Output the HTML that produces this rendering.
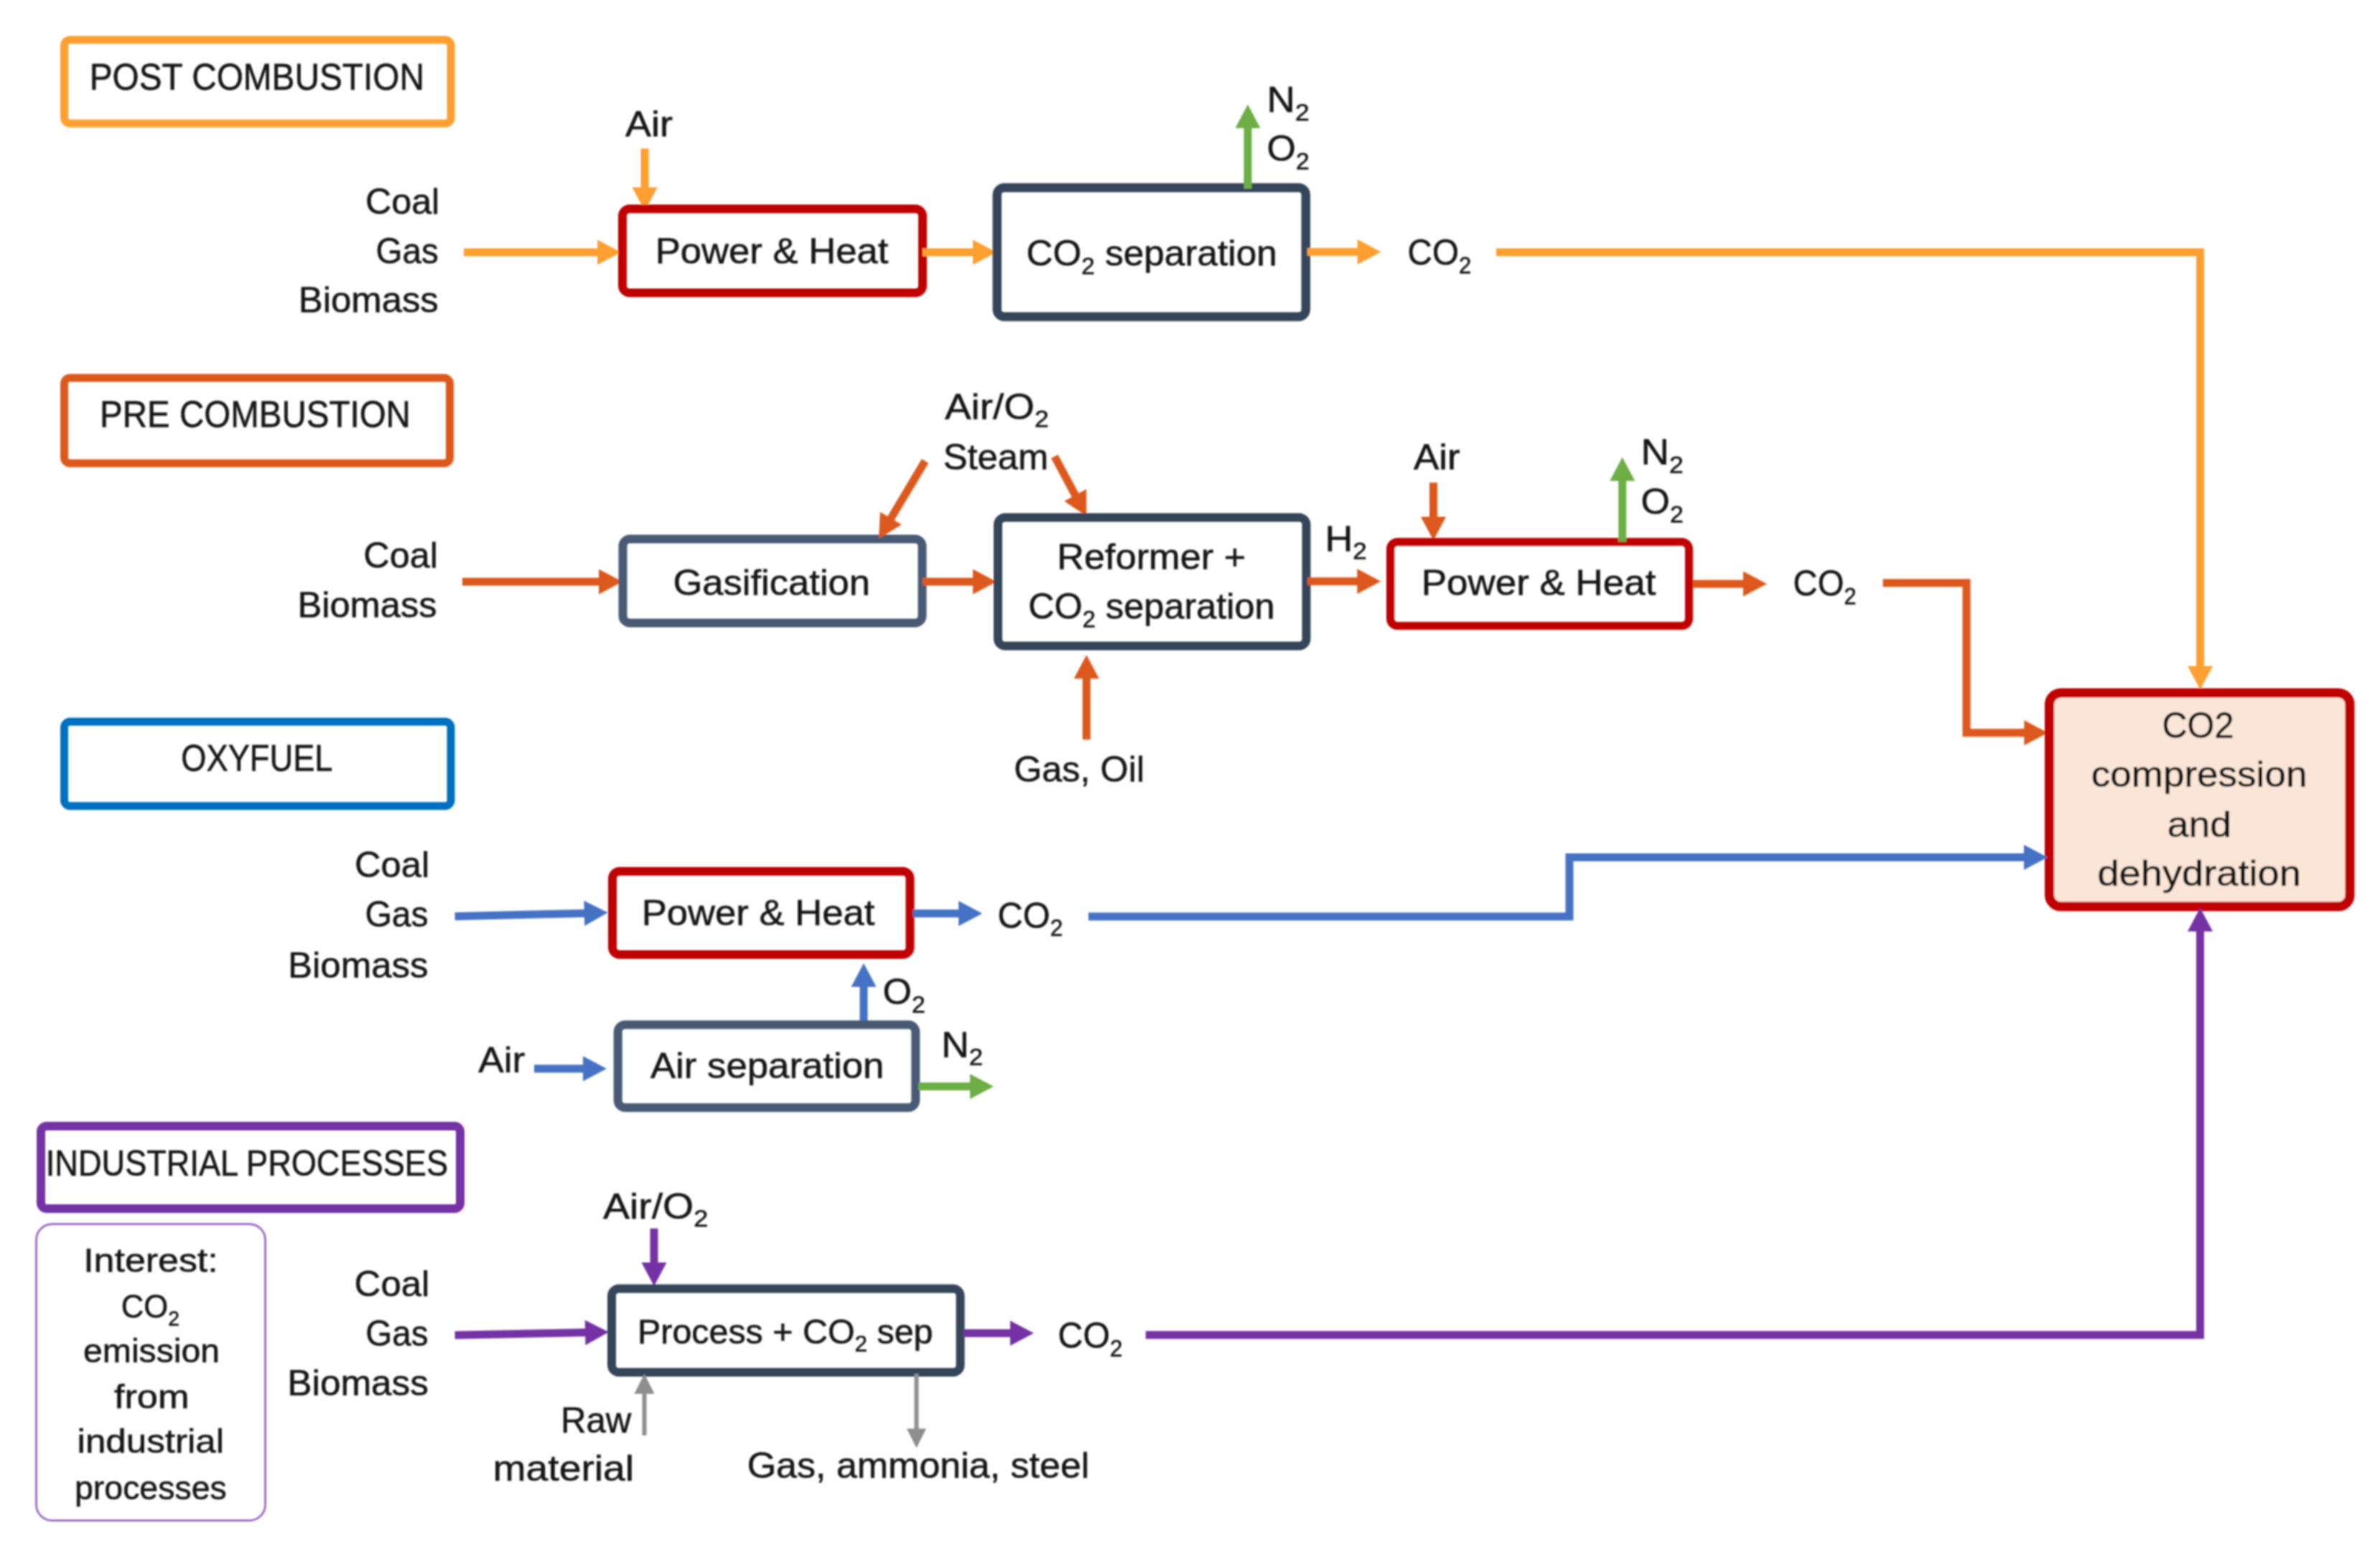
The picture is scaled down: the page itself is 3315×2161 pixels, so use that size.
<!DOCTYPE html>
<html><head><meta charset="utf-8"><style>
html,body{margin:0;padding:0;background:#fff;}
svg{display:block;}
text{font-family:"Liberation Sans",sans-serif;}
</style></head><body>
<svg width="3315" height="2161" viewBox="0 0 3315 2161">
<defs><filter id="bl" x="0" y="0" width="3315" height="2161" filterUnits="userSpaceOnUse"><feGaussianBlur stdDeviation="1"/></filter></defs>
<rect width="3315" height="2161" fill="#fff"/>
<g filter="url(#bl)">
<rect x="89.5" y="55.5" width="538.5" height="116.5" rx="8" fill="none" stroke="#FE9F33" stroke-width="11"/>
<text x="124.7" y="125.0" font-size="52.2" textLength="466.2" lengthAdjust="spacingAndGlyphs" fill="#181818" stroke="#181818" stroke-width="0.6" xml:space="preserve">POST COMBUSTION</text>
<rect x="89.5" y="526.5" width="537.0" height="119.0" rx="8" fill="none" stroke="#DD581E" stroke-width="11"/>
<text x="139.1" y="595.3" font-size="52.2" textLength="432.8" lengthAdjust="spacingAndGlyphs" fill="#181818" stroke="#181818" stroke-width="0.6" xml:space="preserve">PRE COMBUSTION</text>
<rect x="89.5" y="1005.5" width="538.5" height="117.5" rx="8" fill="none" stroke="#0070C0" stroke-width="11"/>
<text x="252.3" y="1074.2" font-size="52.2" textLength="211.2" lengthAdjust="spacingAndGlyphs" fill="#181818" stroke="#181818" stroke-width="0.6" xml:space="preserve">OXYFUEL</text>
<rect x="57.0" y="1569.0" width="584.0" height="115.0" rx="8" fill="none" stroke="#7432A4" stroke-width="12"/>
<text x="63.8" y="1637.5" font-size="50.0" textLength="560.2" lengthAdjust="spacingAndGlyphs" fill="#181818" stroke="#181818" stroke-width="0.6" xml:space="preserve">INDUSTRIAL PROCESSES</text>
<rect x="50.5" y="1705.5" width="319.0" height="413.0" rx="22" fill="none" stroke="#9B6FC8" stroke-width="3"/>
<text x="508.9" y="298.0" font-size="50.0" textLength="103.4" lengthAdjust="spacingAndGlyphs" fill="#181818" stroke="#181818" stroke-width="0.6" xml:space="preserve">Coal</text>
<text x="523.5" y="367.0" font-size="50.0" textLength="87.2" lengthAdjust="spacingAndGlyphs" fill="#181818" stroke="#181818" stroke-width="0.6" xml:space="preserve">Gas</text>
<text x="415.8" y="434.7" font-size="50.0" textLength="195.0" lengthAdjust="spacingAndGlyphs" fill="#181818" stroke="#181818" stroke-width="0.6" xml:space="preserve">Biomass</text>
<text x="870.9" y="189.9" font-size="50.0" textLength="66.0" lengthAdjust="spacingAndGlyphs" fill="#181818" stroke="#181818" stroke-width="0.6" xml:space="preserve">Air</text>
<line x1="898.0" y1="207.0" x2="898.0" y2="262.0" stroke="#FE9F33" stroke-width="11"/>
<polygon points="898.0,294.0 880.5,261.0 915.5,261.0" fill="#FE9F33"/>
<line x1="646.0" y1="351.5" x2="833.0" y2="351.5" stroke="#FE9F33" stroke-width="11"/>
<polygon points="865.0,351.5 832.0,369.0 832.0,334.0" fill="#FE9F33"/>
<rect x="867.0" y="291.0" width="418.0" height="117.0" rx="10" fill="none" stroke="#C00000" stroke-width="12"/>
<text x="912.7" y="367.0" font-size="50.0" textLength="324.7" lengthAdjust="spacingAndGlyphs" fill="#181818" stroke="#181818" stroke-width="0.6" xml:space="preserve">Power &amp; Heat</text>
<line x1="1285.0" y1="351.5" x2="1356.0" y2="351.5" stroke="#FE9F33" stroke-width="11"/>
<polygon points="1388.0,351.5 1355.0,369.0 1355.0,334.0" fill="#FE9F33"/>
<rect x="1388.8" y="261.4" width="430.0" height="179.8" rx="10" fill="none" stroke="#36445A" stroke-width="12.5"/>
<text x="1429.4" y="370.0" font-size="50.0" textLength="349.3" lengthAdjust="spacingAndGlyphs" fill="#181818" stroke="#181818" stroke-width="0.6" xml:space="preserve">CO<tspan font-size="32.5" dy="11.5">2</tspan><tspan dy="-11.5"> separation</tspan></text>
<line x1="1738.0" y1="263.0" x2="1738.0" y2="177.4" stroke="#6DAE45" stroke-width="11"/>
<polygon points="1738.0,145.4 1755.5,178.4 1720.5,178.4" fill="#6DAE45"/>
<text x="1764.5" y="156.0" font-size="50.0" textLength="59.3" lengthAdjust="spacingAndGlyphs" fill="#181818" stroke="#181818" stroke-width="0.6" xml:space="preserve">N<tspan font-size="32.5" dy="11.5">2</tspan></text>
<text x="1764.5" y="224.0" font-size="50.0" textLength="59.2" lengthAdjust="spacingAndGlyphs" fill="#181818" stroke="#181818" stroke-width="0.6" xml:space="preserve">O<tspan font-size="32.5" dy="11.5">2</tspan></text>
<line x1="1820.7" y1="351.0" x2="1891.6" y2="351.0" stroke="#FE9F33" stroke-width="11"/>
<polygon points="1923.6,351.0 1890.6,368.5 1890.6,333.5" fill="#FE9F33"/>
<text x="1960.6" y="369.0" font-size="50.0" textLength="88.6" lengthAdjust="spacingAndGlyphs" fill="#181818" stroke="#181818" stroke-width="0.6" xml:space="preserve">CO<tspan font-size="32.5" dy="11.5">2</tspan></text>
<polyline points="2084.0,351.6 3064.5,351.6 3064.5,929.0" fill="none" stroke="#FE9F33" stroke-width="11" stroke-linejoin="miter"/>
<line x1="3064.5" y1="925.0" x2="3064.5" y2="929.0" stroke="#FE9F33" stroke-width="11"/>
<polygon points="3064.5,961.0 3047.0,928.0 3082.0,928.0" fill="#FE9F33"/>
<text x="506.3" y="791.0" font-size="50.0" textLength="103.6" lengthAdjust="spacingAndGlyphs" fill="#181818" stroke="#181818" stroke-width="0.6" xml:space="preserve">Coal</text>
<text x="414.5" y="860.0" font-size="50.0" textLength="194.0" lengthAdjust="spacingAndGlyphs" fill="#181818" stroke="#181818" stroke-width="0.6" xml:space="preserve">Biomass</text>
<line x1="644.0" y1="810.4" x2="835.0" y2="810.4" stroke="#DD581E" stroke-width="11"/>
<polygon points="867.0,810.4 834.0,827.9 834.0,792.9" fill="#DD581E"/>
<rect x="867.5" y="751.0" width="417.0" height="117.0" rx="10" fill="none" stroke="#485A74" stroke-width="12"/>
<text x="937.4" y="828.7" font-size="50.0" textLength="274.7" lengthAdjust="spacingAndGlyphs" fill="#181818" stroke="#181818" stroke-width="0.6" xml:space="preserve">Gasification</text>
<line x1="1285.0" y1="810.4" x2="1356.0" y2="810.4" stroke="#DD581E" stroke-width="11"/>
<polygon points="1388.0,810.4 1355.0,827.9 1355.0,792.9" fill="#DD581E"/>
<line x1="1288.5" y1="642.4" x2="1240.4" y2="723.0" stroke="#DD581E" stroke-width="11"/>
<polygon points="1224.0,750.5 1225.9,713.2 1255.9,731.1" fill="#DD581E"/>
<text x="1315.9" y="583.8" font-size="50.0" textLength="144.9" lengthAdjust="spacingAndGlyphs" fill="#181818" stroke="#181818" stroke-width="0.6" xml:space="preserve">Air/O<tspan font-size="32.5" dy="11.5">2</tspan></text>
<text x="1313.7" y="654.0" font-size="50.0" textLength="146.6" lengthAdjust="spacingAndGlyphs" fill="#181818" stroke="#181818" stroke-width="0.6" xml:space="preserve">Steam</text>
<line x1="1468.8" y1="636.0" x2="1498.2" y2="690.8" stroke="#DD581E" stroke-width="11"/>
<polygon points="1513.3,719.0 1482.3,698.2 1513.1,681.6" fill="#DD581E"/>
<rect x="1390.0" y="721.0" width="429.5" height="179.0" rx="10" fill="none" stroke="#36445A" stroke-width="12"/>
<text x="1472.3" y="792.7" font-size="50.0" textLength="262.9" lengthAdjust="spacingAndGlyphs" fill="#181818" stroke="#181818" stroke-width="0.6" xml:space="preserve">Reformer +</text>
<text x="1432.2" y="862.3" font-size="50.0" textLength="343.4" lengthAdjust="spacingAndGlyphs" fill="#181818" stroke="#181818" stroke-width="0.6" xml:space="preserve">CO<tspan font-size="32.5" dy="11.5">2</tspan><tspan dy="-11.5"> separation</tspan></text>
<line x1="1513.3" y1="1030.5" x2="1513.3" y2="944.5" stroke="#DD581E" stroke-width="11"/>
<polygon points="1513.3,912.5 1530.8,945.5 1495.8,945.5" fill="#DD581E"/>
<text x="1412.2" y="1088.5" font-size="50.0" textLength="181.9" lengthAdjust="spacingAndGlyphs" fill="#181818" stroke="#181818" stroke-width="0.6" xml:space="preserve">Gas, Oil</text>
<text x="1845.4" y="767.5" font-size="50.0" textLength="58.4" lengthAdjust="spacingAndGlyphs" fill="#181818" stroke="#181818" stroke-width="0.6" xml:space="preserve">H<tspan font-size="32.5" dy="11.5">2</tspan></text>
<line x1="1820.8" y1="810.0" x2="1891.3" y2="810.0" stroke="#DD581E" stroke-width="11"/>
<polygon points="1923.3,810.0 1890.3,827.5 1890.3,792.5" fill="#DD581E"/>
<text x="1968.9" y="654.0" font-size="50.0" textLength="64.8" lengthAdjust="spacingAndGlyphs" fill="#181818" stroke="#181818" stroke-width="0.6" xml:space="preserve">Air</text>
<line x1="1996.5" y1="672.4" x2="1996.5" y2="721.0" stroke="#DD581E" stroke-width="11"/>
<polygon points="1996.5,753.0 1979.0,720.0 2014.0,720.0" fill="#DD581E"/>
<rect x="1936.5" y="755.0" width="416.0" height="117.0" rx="10" fill="none" stroke="#C00000" stroke-width="11"/>
<text x="1979.7" y="829.4" font-size="50.0" textLength="326.7" lengthAdjust="spacingAndGlyphs" fill="#181818" stroke="#181818" stroke-width="0.6" xml:space="preserve">Power &amp; Heat</text>
<line x1="2259.7" y1="754.8" x2="2259.7" y2="669.0" stroke="#6DAE45" stroke-width="11"/>
<polygon points="2259.7,637.0 2277.2,670.0 2242.2,670.0" fill="#6DAE45"/>
<text x="2285.5" y="647.2" font-size="50.0" textLength="59.3" lengthAdjust="spacingAndGlyphs" fill="#181818" stroke="#181818" stroke-width="0.6" xml:space="preserve">N<tspan font-size="32.5" dy="11.5">2</tspan></text>
<text x="2285.5" y="716.0" font-size="50.0" textLength="59.2" lengthAdjust="spacingAndGlyphs" fill="#181818" stroke="#181818" stroke-width="0.6" xml:space="preserve">O<tspan font-size="32.5" dy="11.5">2</tspan></text>
<line x1="2357.8" y1="813.6" x2="2429.0" y2="813.6" stroke="#DD581E" stroke-width="11"/>
<polygon points="2461.0,813.6 2428.0,831.1 2428.0,796.1" fill="#DD581E"/>
<text x="2497.6" y="830.4" font-size="50.0" textLength="87.9" lengthAdjust="spacingAndGlyphs" fill="#181818" stroke="#181818" stroke-width="0.6" xml:space="preserve">CO<tspan font-size="32.5" dy="11.5">2</tspan></text>
<polyline points="2622.6,812.2 2739.0,812.2 2739.0,1021.0 2825.0,1021.0" fill="none" stroke="#DD581E" stroke-width="11" stroke-linejoin="miter"/>
<line x1="2815.0" y1="1021.0" x2="2820.4" y2="1021.0" stroke="#DD581E" stroke-width="11"/>
<polygon points="2852.4,1021.0 2819.4,1038.5 2819.4,1003.5" fill="#DD581E"/>
<rect x="2854.5" y="965.5" width="418.5" height="297.5" rx="16" fill="#FBE5D6" stroke="#C00000" stroke-width="13"/>
<text x="3011.5" y="1028.0" font-size="50.0" textLength="99.9" lengthAdjust="spacingAndGlyphs" fill="#181818" stroke="#181818" stroke-width="0.6" xml:space="preserve">CO2</text>
<text x="2912.7" y="1096.0" font-size="50.0" textLength="300.7" lengthAdjust="spacingAndGlyphs" fill="#181818" stroke="#181818" stroke-width="0.6" xml:space="preserve">compression</text>
<text x="3018.7" y="1165.5" font-size="50.0" textLength="89.4" lengthAdjust="spacingAndGlyphs" fill="#181818" stroke="#181818" stroke-width="0.6" xml:space="preserve">and</text>
<text x="2921.4" y="1234.0" font-size="50.0" textLength="283.6" lengthAdjust="spacingAndGlyphs" fill="#181818" stroke="#181818" stroke-width="0.6" xml:space="preserve">dehydration</text>
<text x="493.9" y="1222.3" font-size="50.0" textLength="104.3" lengthAdjust="spacingAndGlyphs" fill="#181818" stroke="#181818" stroke-width="0.6" xml:space="preserve">Coal</text>
<text x="508.4" y="1291.4" font-size="50.0" textLength="88.2" lengthAdjust="spacingAndGlyphs" fill="#181818" stroke="#181818" stroke-width="0.6" xml:space="preserve">Gas</text>
<text x="401.0" y="1361.8" font-size="50.0" textLength="195.6" lengthAdjust="spacingAndGlyphs" fill="#181818" stroke="#181818" stroke-width="0.6" xml:space="preserve">Biomass</text>
<line x1="633.6" y1="1276.8" x2="814.8" y2="1272.4" stroke="#4472C4" stroke-width="11"/>
<polygon points="846.8,1271.6 814.2,1289.9 813.4,1254.9" fill="#4472C4"/>
<rect x="853.0" y="1214.0" width="414.5" height="116.0" rx="10" fill="none" stroke="#C00000" stroke-width="12"/>
<text x="893.7" y="1288.6" font-size="50.0" textLength="324.7" lengthAdjust="spacingAndGlyphs" fill="#181818" stroke="#181818" stroke-width="0.6" xml:space="preserve">Power &amp; Heat</text>
<line x1="1271.4" y1="1272.8" x2="1336.2" y2="1272.8" stroke="#4472C4" stroke-width="11"/>
<polygon points="1368.2,1272.8 1335.2,1290.3 1335.2,1255.3" fill="#4472C4"/>
<text x="1389.5" y="1292.6" font-size="50.0" textLength="90.9" lengthAdjust="spacingAndGlyphs" fill="#181818" stroke="#181818" stroke-width="0.6" xml:space="preserve">CO<tspan font-size="32.5" dy="11.5">2</tspan></text>
<polyline points="1516.0,1276.9 2186.0,1276.9 2186.0,1194.4 2825.0,1194.4" fill="none" stroke="#4472C4" stroke-width="11" stroke-linejoin="miter"/>
<line x1="2815.0" y1="1194.4" x2="2820.0" y2="1194.4" stroke="#4472C4" stroke-width="11"/>
<polygon points="2852.0,1194.4 2819.0,1211.9 2819.0,1176.9" fill="#4472C4"/>
<line x1="1203.0" y1="1423.0" x2="1203.0" y2="1374.0" stroke="#4472C4" stroke-width="11"/>
<polygon points="1203.0,1342.0 1220.5,1375.0 1185.5,1375.0" fill="#4472C4"/>
<text x="1229.5" y="1399.0" font-size="50.0" textLength="59.2" lengthAdjust="spacingAndGlyphs" fill="#181818" stroke="#181818" stroke-width="0.6" xml:space="preserve">O<tspan font-size="32.5" dy="11.5">2</tspan></text>
<text x="666.3" y="1494.0" font-size="50.0" textLength="64.9" lengthAdjust="spacingAndGlyphs" fill="#181818" stroke="#181818" stroke-width="0.6" xml:space="preserve">Air</text>
<line x1="744.0" y1="1488.9" x2="813.0" y2="1488.9" stroke="#4472C4" stroke-width="11"/>
<polygon points="845.0,1488.9 812.0,1506.4 812.0,1471.4" fill="#4472C4"/>
<rect x="860.7" y="1427.7" width="414.6" height="115.6" rx="10" fill="none" stroke="#485A74" stroke-width="12"/>
<text x="905.9" y="1502.0" font-size="50.0" textLength="325.5" lengthAdjust="spacingAndGlyphs" fill="#181818" stroke="#181818" stroke-width="0.6" xml:space="preserve">Air separation</text>
<text x="1311.2" y="1472.7" font-size="50.0" textLength="58.0" lengthAdjust="spacingAndGlyphs" fill="#181818" stroke="#181818" stroke-width="0.6" xml:space="preserve">N<tspan font-size="32.5" dy="11.5">2</tspan></text>
<line x1="1279.0" y1="1513.7" x2="1352.0" y2="1513.7" stroke="#6DAE45" stroke-width="11"/>
<polygon points="1384.0,1513.7 1351.0,1531.2 1351.0,1496.2" fill="#6DAE45"/>
<text x="116.2" y="1772.0" font-size="46.8" textLength="187.5" lengthAdjust="spacingAndGlyphs" fill="#181818" stroke="#181818" stroke-width="0.6" xml:space="preserve">Interest:</text>
<text x="168.8" y="1836.0" font-size="46.8" textLength="81.2" lengthAdjust="spacingAndGlyphs" fill="#181818" stroke="#181818" stroke-width="0.6" xml:space="preserve">CO<tspan font-size="30.4" dy="10.8">2</tspan></text>
<text x="116.0" y="1898.0" font-size="46.8" textLength="190.0" lengthAdjust="spacingAndGlyphs" fill="#181818" stroke="#181818" stroke-width="0.6" xml:space="preserve">emission</text>
<text x="158.9" y="1961.7" font-size="46.8" textLength="104.6" lengthAdjust="spacingAndGlyphs" fill="#181818" stroke="#181818" stroke-width="0.6" xml:space="preserve">from</text>
<text x="107.6" y="2023.6" font-size="46.8" textLength="204.4" lengthAdjust="spacingAndGlyphs" fill="#181818" stroke="#181818" stroke-width="0.6" xml:space="preserve">industrial</text>
<text x="104.0" y="2089.0" font-size="46.8" textLength="211.7" lengthAdjust="spacingAndGlyphs" fill="#181818" stroke="#181818" stroke-width="0.6" xml:space="preserve">processes</text>
<text x="493.6" y="1806.0" font-size="50.0" textLength="104.8" lengthAdjust="spacingAndGlyphs" fill="#181818" stroke="#181818" stroke-width="0.6" xml:space="preserve">Coal</text>
<text x="509.3" y="1874.7" font-size="50.0" textLength="87.4" lengthAdjust="spacingAndGlyphs" fill="#181818" stroke="#181818" stroke-width="0.6" xml:space="preserve">Gas</text>
<text x="400.3" y="1944.3" font-size="50.0" textLength="196.6" lengthAdjust="spacingAndGlyphs" fill="#181818" stroke="#181818" stroke-width="0.6" xml:space="preserve">Biomass</text>
<line x1="633.6" y1="1860.3" x2="816.0" y2="1856.6" stroke="#7432A4" stroke-width="11"/>
<polygon points="848.0,1856.0 815.4,1874.2 814.7,1839.2" fill="#7432A4"/>
<text x="839.9" y="1697.7" font-size="50.0" textLength="146.4" lengthAdjust="spacingAndGlyphs" fill="#181818" stroke="#181818" stroke-width="0.6" xml:space="preserve">Air/O<tspan font-size="32.5" dy="11.5">2</tspan></text>
<line x1="911.0" y1="1711.6" x2="911.0" y2="1760.0" stroke="#7432A4" stroke-width="11"/>
<polygon points="911.0,1792.0 893.5,1759.0 928.5,1759.0" fill="#7432A4"/>
<rect x="852.0" y="1795.6" width="485.6" height="116.4" rx="10" fill="none" stroke="#36445A" stroke-width="12"/>
<text x="888.0" y="1872.0" font-size="47.5" textLength="411.5" lengthAdjust="spacingAndGlyphs" fill="#181818" stroke="#181818" stroke-width="0.6" xml:space="preserve">Process + CO<tspan font-size="30.9" dy="10.9">2</tspan><tspan dy="-10.9"> sep</tspan></text>
<line x1="1341.6" y1="1857.4" x2="1408.0" y2="1857.4" stroke="#7432A4" stroke-width="11"/>
<polygon points="1440.0,1857.4 1407.0,1874.9 1407.0,1839.9" fill="#7432A4"/>
<text x="1473.5" y="1878.4" font-size="50.0" textLength="90.0" lengthAdjust="spacingAndGlyphs" fill="#181818" stroke="#181818" stroke-width="0.6" xml:space="preserve">CO<tspan font-size="32.5" dy="11.5">2</tspan></text>
<polyline points="1595.8,1860.0 3064.5,1860.0 3064.5,1295.0" fill="none" stroke="#7432A4" stroke-width="11" stroke-linejoin="miter"/>
<line x1="3064.5" y1="1300.0" x2="3064.5" y2="1296.7" stroke="#7432A4" stroke-width="11"/>
<polygon points="3064.5,1264.7 3082.0,1297.7 3047.0,1297.7" fill="#7432A4"/>
<line x1="897.5" y1="2000.0" x2="897.5" y2="1941.0" stroke="#8E8E8E" stroke-width="6"/>
<polygon points="897.5,1914.0 911.5,1942.0 883.5,1942.0" fill="#8E8E8E"/>
<text x="780.9" y="1996.0" font-size="50.0" textLength="98.4" lengthAdjust="spacingAndGlyphs" fill="#181818" stroke="#181818" stroke-width="0.6" xml:space="preserve">Raw</text>
<text x="686.6" y="2063.3" font-size="50.0" textLength="196.5" lengthAdjust="spacingAndGlyphs" fill="#181818" stroke="#181818" stroke-width="0.6" xml:space="preserve">material</text>
<line x1="1276.5" y1="1914.0" x2="1276.5" y2="1991.5" stroke="#8E8E8E" stroke-width="6"/>
<polygon points="1276.5,2017.5 1263.0,1990.5 1290.0,1990.5" fill="#8E8E8E"/>
<text x="1040.7" y="2059.0" font-size="50.0" textLength="476.7" lengthAdjust="spacingAndGlyphs" fill="#181818" stroke="#181818" stroke-width="0.6" xml:space="preserve">Gas, ammonia, steel</text>
</g>
</svg></body></html>
